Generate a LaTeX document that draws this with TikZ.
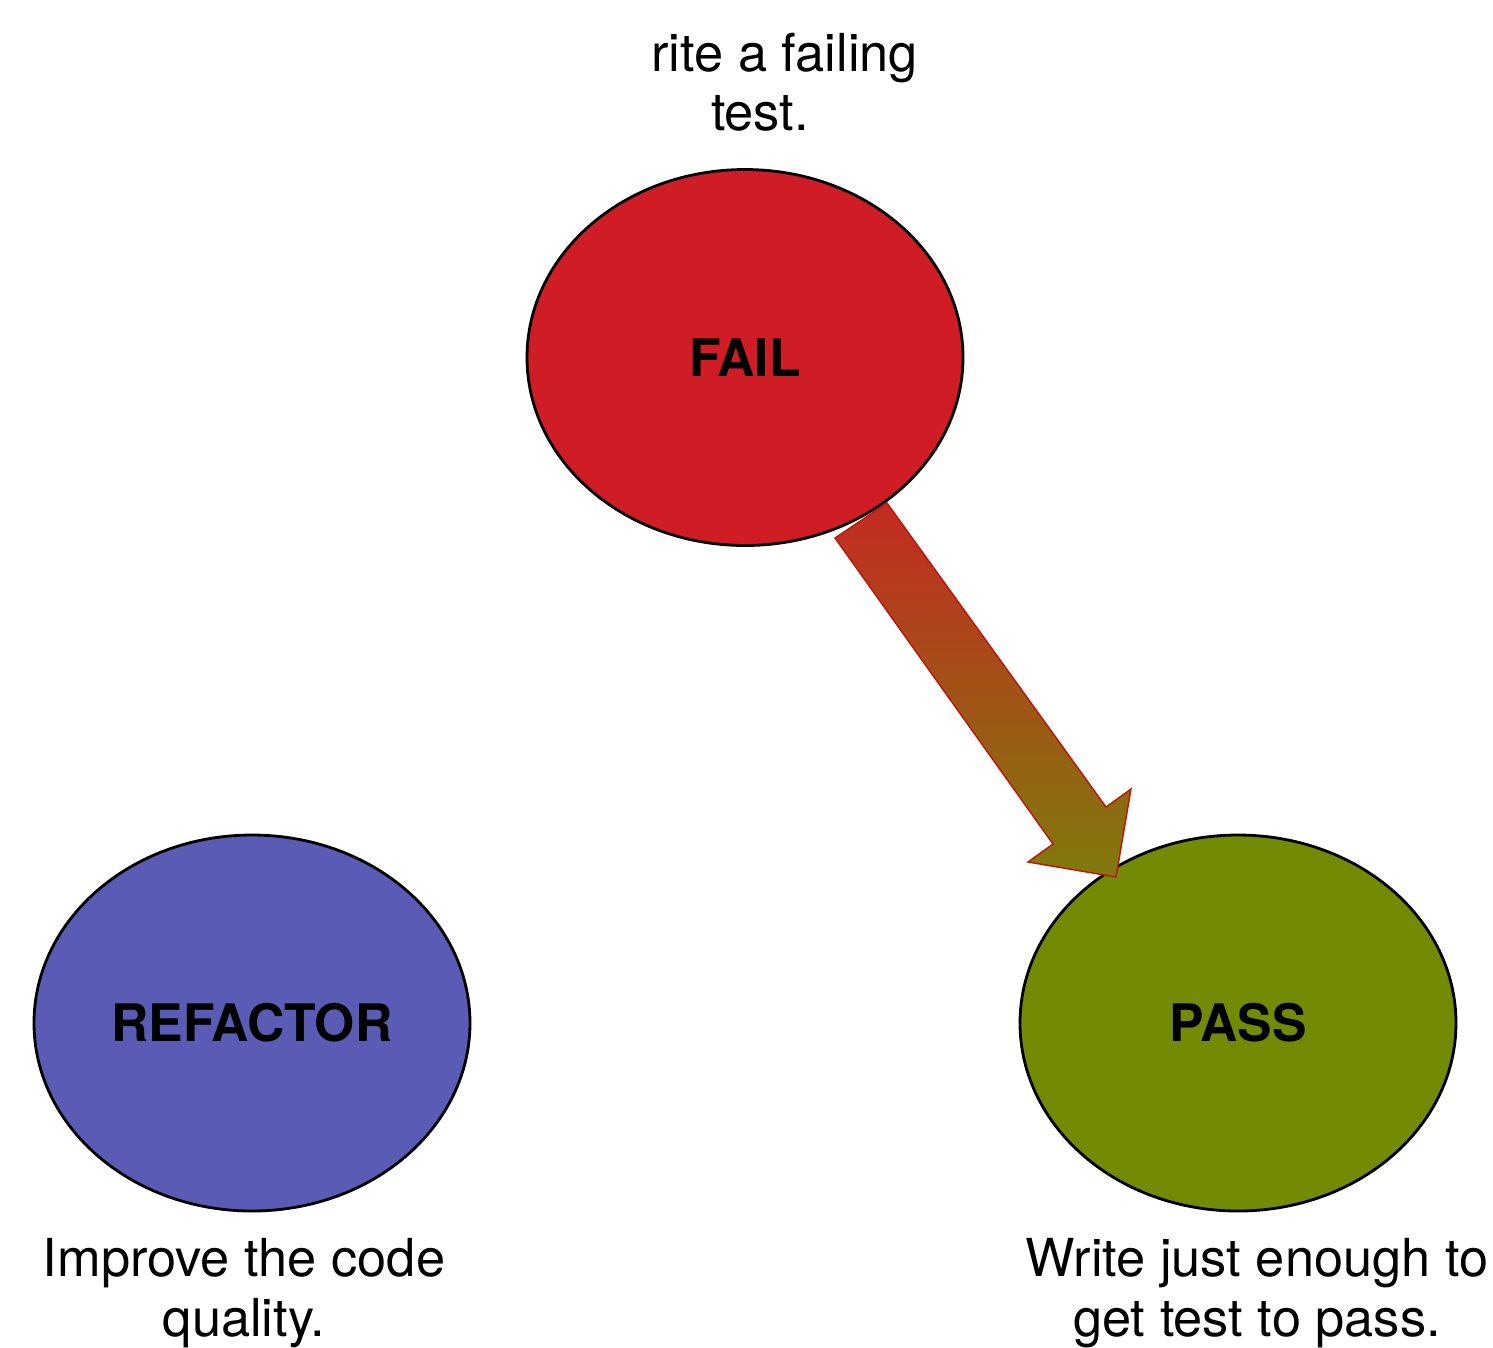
\documentclass[tikz,border=0pt]{standalone}
\usepackage{fontspec}
\setmainfont{TeX Gyre Heros}
\usetikzlibrary{shapes.geometric,positioning}
\definecolor{failred}{RGB}{208,28,36}
\definecolor{refblue}{RGB}{90,91,181}
\definecolor{passgreen}{RGB}{115,138,4}
\definecolor{arrowtop}{RGB}{196,42,34}
\definecolor{arrowbot}{RGB}{128,122,12}
\definecolor{arrowline}{RGB}{190,20,10}
\begin{document}
\begin{tikzpicture}[x=1cm,y=1cm,
    main/.style = {draw, ellipse, line width=0.8pt, minimum width=4.36cm, minimum height=3.76cm,
                   font=\fontsize{14.7}{16.8}\selectfont\bfseries},
    note/.style = {align=center, font=\fontsize{14.9}{16.9}\selectfont}]
    \useasboundingbox (0,0) rectangle (14.93,-13.47);
    \node[main, fill=failred] (fail) at (7.45,-3.575) {FAIL};
    \node[main, fill=refblue] (refactor) at (2.52,-10.23) {REFACTOR};
    \node[main, fill=passgreen] (pass) at (12.38,-10.23) {PASS};
    \node[note] (failnote) at (7.60,-0.82) {\phantom{W}rite a failing\\test.};
    \node[note] (refnote) at (2.44,-12.93) {Improve the code\\quality.};
    \node[note] (passnote) at (12.57,-12.93) {Write just enough to\\get test to pass.};
    % block arrow from fail to pass
    \path[draw=arrowline, line width=0.4pt, top color=arrowtop, bottom color=arrowbot]
        (8.87,-5.03) -- (11.06,-8.07) -- (11.31,-7.89) -- (11.16,-8.77)
        -- (10.28,-8.62) -- (10.53,-8.44) -- (8.35,-5.38) -- cycle;
\end{tikzpicture}
\end{document}
